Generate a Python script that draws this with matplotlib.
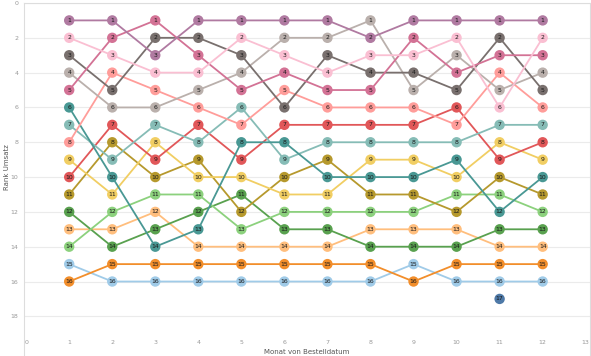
import numpy as np
import matplotlib
matplotlib.use("Agg")
import matplotlib.pyplot as plt
from matplotlib.lines import Line2D

months = [1, 2, 3, 4, 5, 6, 7, 8, 9, 10, 11, 12]

# rank per month, one list per product line (named by its colour)
purple = [1, 1, 3, 1, 1, 1, 1, 2, 1, 1, 1, 1]
light_pink = [2, 3, 4, 4, 2, 3, 4, 3, 3, 2, 6, 2]
dark_grey = [3, 5, 2, 2, 3, 6, 3, 4, 4, 5, 2, 5]
beige = [4, 6, 6, 5, 4, 2, 2, 1, 5, 3, 5, 4]
pink = [5, 2, 1, 3, 5, 4, 5, 5, 2, 4, 3, 3]
dark_teal = [6, 10, 14, 13, 8, 8, 10, 10, 10, 9, 12, 10]
light_teal = [7, 9, 7, 8, 6, 9, 8, 8, 8, 8, 7, 7]
salmon = [8, 4, 5, 6, 7, 5, 6, 6, 6, 7, 4, 6]
yellow = [9, 11, 8, 10, 10, 11, 11, 9, 9, 10, 8, 9]
red = [10, 7, 9, 7, 9, 7, 7, 7, 7, 6, 9, 8]
olive = [11, 8, 10, 9, 12, 10, 9, 11, 11, 12, 10, 11]
dark_green = [12, 14, 13, 12, 11, 13, 13, 14, 14, 14, 13, 13]
light_orange = [13, 13, 12, 14, 14, 14, 14, 13, 13, 13, 14, 14]
light_green = [14, 12, 11, 11, 13, 12, 12, 12, 12, 11, 11, 12]
light_blue = [15, 16, 16, 16, 16, 16, 16, 16, 15, 16, 16, 16]
orange = [16, 15, 15, 15, 15, 15, 15, 15, 16, 15, 15, 15]
dark_blue = [None, None, None, None, None, None, None, None, None, None, 17, None]

series = [
    (light_blue, "#A0CBE8"),
    (orange, "#F28E2B"),
    (light_orange, "#FFBE7D"),
    (dark_green, "#59A14F"),
    (light_green, "#8CD17D"),
    (olive, "#B6992D"),
    (yellow, "#F1CE63"),
    (red, "#E15759"),
    (light_teal, "#86BCB6"),
    (dark_teal, "#499894"),
    (salmon, "#FF9D9A"),
    (beige, "#BAB0AC"),
    (dark_grey, "#79706E"),
    (pink, "#D37295"),
    (light_pink, "#FABFD2"),
    (purple, "#B07AA1"),
    (dark_blue, "#4E79A7"),
]

fig = plt.figure(figsize=(5.91, 3.56), dpi=100)
W, H = 591, 356
ax = fig.add_axes([24 / W, 1 - 332 / H, (590 - 24) / W, (332 - 3) / H])

for ranks, color in series:
    x = [m for m, r in zip(months, ranks) if r is not None]
    y = [r for r in ranks if r is not None]
    ax.plot(x, y, color=color, lw=1.3, zorder=2)
    ax.scatter(x, y, s=56, color=color, zorder=3, edgecolors="none")
    for xi, yi in zip(x, y):
        ax.text(xi, yi, str(yi), ha="center", va="center", fontsize=4.4,
                color="#1a1a1a", zorder=4)

ax.set_xlim(-0.05, 13.1)
ax.set_ylim(18.9, 0)
ax.set_xticks(range(0, 14))
ax.set_yticks(range(0, 19, 2))
ax.tick_params(length=0, labelsize=4.5, labelcolor="#999999", pad=4)
ax.tick_params(axis="x", pad=6)
ax.grid(axis="y", color="#ebebeb", lw=0.8, zorder=0)
ax.set_axisbelow(True)

for side in ["bottom", "left", "right"]:
    ax.spines[side].set_visible(False)
ax.spines["top"].set_color("#dddddd")
ax.spines["top"].set_linewidth(0.8)

# pane borders run down to the bottom edge
fig.add_artist(Line2D([24 / W, 24 / W], [0, 1 - 3 / H], color="#dddddd", lw=0.8))
fig.add_artist(Line2D([589.5 / W, 589.5 / W], [0, 1 - 3 / H], color="#dddddd", lw=0.8))

ax.set_ylabel("Rank Umsatz", fontsize=5, color="#555555")
ax.yaxis.set_label_coords(-14 / 566, 0.5)
ax.set_xlabel("Monat von Bestelldatum", fontsize=5, color="#555555", labelpad=3)

fig.savefig("out.png", dpi=100)
